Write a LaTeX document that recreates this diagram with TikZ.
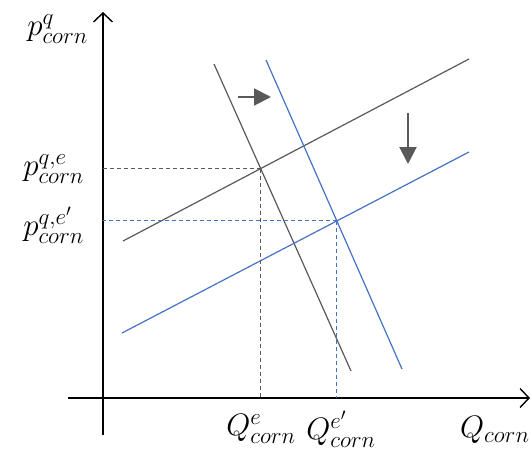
\documentclass[tikz,border=0pt]{standalone}
\usepackage{fix-cm}
\usepackage{amsmath}
\usetikzlibrary{arrows.meta,positioning,intersections}
\definecolor{curvegray}{HTML}{595959}
\definecolor{curveblue}{HTML}{4472C4}
\DeclareMathSizes{31}{31}{23}{17}
\tikzset{>=latex}
\tikzset{lbl/.style={inner sep=0pt, font=\fontsize{31}{36}\selectfont}}

\begin{document}
\begin{tikzpicture}[x=1pt,y=-1pt,
  axis/.style={line width=1.6pt,
    -{Straight Barb[length=9pt,width=19pt,line width=1.4pt]}},
  oldline/.style={curvegray, line width=1.2pt},
  newline/.style={curveblue, line width=1.2pt},
  guide/.style={line width=0.9pt, dash pattern=on 4pt off 3pt},
  shiftarrow/.style={curvegray, line width=2pt,
    -{Triangle[length=17pt,width=17pt]}}]
  \useasboundingbox (0,0) rectangle (531,453);

  % axes
  \coordinate (O) at (103,398);
  \coordinate (ytop) at (103,12);
  \coordinate (ybot) at (103,435);
  \coordinate (xleft) at (68,398);
  \coordinate (xright) at (530,398);
  \draw[axis] (ybot) -- (ytop);
  \draw[axis] (xleft) -- (xright);

  % supply and demand, before and after
  \coordinate (supA) at (123,241);
  \coordinate (supB) at (469,59);
  \coordinate (supnewA) at (122,333);
  \coordinate (supnewB) at (469,152);
  \coordinate (demA) at (214,64);
  \coordinate (demB) at (351,371);
  \coordinate (demnewA) at (266,60);
  \coordinate (demnewB) at (402,369);
  \draw[oldline, name path=sup] (supA) -- (supB);
  \draw[oldline, name path=dem] (demA) -- (demB);
  \draw[newline, name path=supnew] (supnewA) -- (supnewB);
  \draw[newline, name path=demnew] (demnewA) -- (demnewB);
  \path[name intersections={of=sup and dem, by=e}];
  \path[name intersections={of=supnew and demnew, by=enew}];

  % equilibrium guides
  \draw[guide, curvegray] (e) -- (e -| O);
  \draw[guide, curvegray] (e) -- (e |- O);
  \draw[guide, curveblue] (enew) -- (enew -| O);
  \draw[guide, curveblue] (enew) -- (enew |- O);

  % shifts
  \coordinate (rightA) at (238,97);
  \coordinate (rightB) at (271,97);
  \coordinate (downA) at (408,113);
  \coordinate (downB) at (408,164);
  \draw[shiftarrow] (rightA) -- (rightB);
  \draw[shiftarrow] (downA) -- (downB);

  % labels
  \node[lbl, anchor=east] (pq) at (88,29) {$p^{q}_{corn}$};
  \node[lbl, anchor=east] (pqe) at (84,169) {$p^{q,e}_{corn}$};
  \node[lbl, anchor=east] (pqenew) at (84,225) {$p^{q,e'}_{corn}$};
  \node[lbl] (Qe) at (261,429) {$Q^{e}_{corn}$};
  \node[lbl] (Qenew) at (341,429) {$Q^{e'}_{corn}$};
  \node[lbl, anchor=west] (Q) at (460,430) {$Q_{corn}$};
\end{tikzpicture}
\end{document}
